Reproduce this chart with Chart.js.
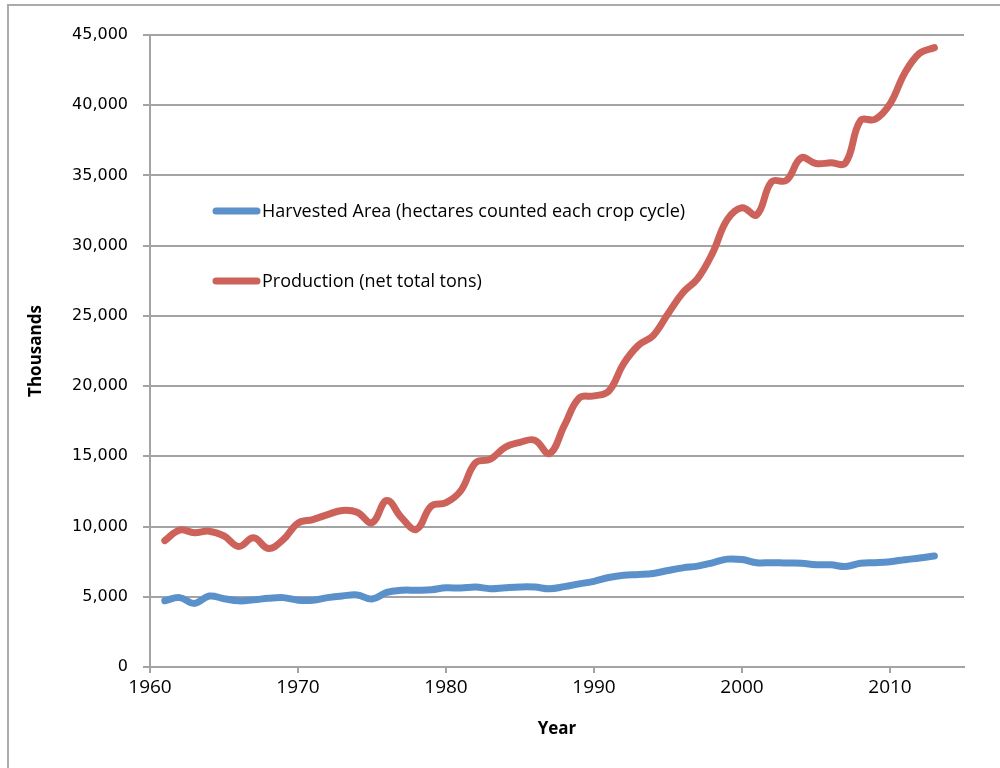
<!DOCTYPE html>
<html>
<head>
<meta charset="utf-8">
<script src="https://cdn.jsdelivr.net/npm/chart.js@4/dist/chart.umd.min.js"></script>
<style>
  html, body { margin: 0; padding: 0; background: #fff; }
  canvas { display: block; }
</style>
</head>
<body>
<canvas id="c" width="1000" height="768"></canvas>
<script>
// Years of record
const years = [1961, 1962, 1963, 1964, 1965, 1966, 1967, 1968, 1969, 1970,
  1971, 1972, 1973, 1974, 1975, 1976, 1977, 1978, 1979, 1980,
  1981, 1982, 1983, 1984, 1985, 1986, 1987, 1988, 1989, 1990,
  1991, 1992, 1993, 1994, 1995, 1996, 1997, 1998, 1999, 2000,
  2001, 2002, 2003, 2004, 2005, 2006, 2007, 2008, 2009, 2010,
  2011, 2012, 2013];

// Harvested area, thousand hectares
const harvestedArea = [4720, 4940, 4530, 5050, 4860, 4710, 4780, 4890, 4940, 4760,
  4750, 4940, 5060, 5130, 4840, 5310, 5460, 5470, 5500, 5640,
  5620, 5690, 5580, 5650, 5700, 5690, 5570, 5720, 5920, 6100,
  6370, 6530, 6580, 6660, 6870, 7060, 7180, 7420, 7680, 7650,
  7420, 7430, 7400, 7390, 7280, 7280, 7150, 7390, 7430, 7500,
  7640, 7760, 7900];

// Production, thousand tons
const production = [9000, 9750, 9560, 9670, 9330, 8580, 9200, 8440, 9070, 10250,
  10500, 10850, 11150, 11020, 10280, 11850, 10630, 9800, 11450, 11700,
  12550, 14550, 14800, 15650, 16000, 16150, 15200, 17200, 19150, 19300,
  19650, 21600, 22900, 23600, 25150, 26650, 27650, 29450, 31850, 32700,
  32200, 34550, 34650, 36250, 35850, 35900, 35900, 38900, 39000, 40100,
  42300, 43700, 44100];

const seriesLabels = ['Harvested Area (hectares counted each crop cycle)', 'Production (net total tons)'];
const xTicks = [1960, 1970, 1980, 1990, 2000, 2010];

const GRID = '#a3a3a3';
const FONT = 'Open Sans';

// Light frame around the chart
const framePlugin = {
  id: 'frame',
  beforeDraw(chart) {
    const ctx = chart.ctx;
    ctx.save();
    ctx.fillStyle = '#fff';
    ctx.fillRect(0, 0, chart.width, chart.height);
    ctx.strokeStyle = '#ababab';
    ctx.lineWidth = 2;
    ctx.strokeRect(8, 5, 1100, 900);
    ctx.restore();
  }
};

// Legend drawn inside the plot area
const innerLegend = {
  id: 'innerLegend',
  afterDraw(chart) {
    const ctx = chart.ctx;
    const x0 = 216, x1 = 257, textX = 262;
    const rows = [211, 281];
    ctx.save();
    chart.data.datasets.forEach((ds, i) => {
      const y = rows[i];
      ctx.strokeStyle = ds.borderColor;
      ctx.lineWidth = 7;
      ctx.lineCap = 'round';
      ctx.beginPath();
      ctx.moveTo(x0, y);
      ctx.lineTo(x1, y);
      ctx.stroke();
      ctx.fillStyle = '#000';
      ctx.font = '18px "' + FONT + '"';
      ctx.textBaseline = 'middle';
      ctx.textAlign = 'left';
      ctx.fillText(ds.label, textX, y + 1);
    });
    ctx.restore();
  }
};

const toPoints = vals => years.map((yr, i) => ({ x: yr, y: vals[i] }));

new Chart(document.getElementById('c'), {
  type: 'line',
  data: {
    datasets: [
      {
        label: seriesLabels[0],
        data: toPoints(harvestedArea),
        borderColor: '#5b91ca',
        borderWidth: 7,
        pointRadius: 0,
        tension: 0.4,
        fill: false,
        borderCapStyle: 'round',
        borderJoinStyle: 'round'
      },
      {
        label: seriesLabels[1],
        data: toPoints(production),
        borderColor: '#cc6259',
        borderWidth: 7,
        pointRadius: 0,
        tension: 0.4,
        fill: false,
        borderCapStyle: 'round',
        borderJoinStyle: 'round'
      }
    ]
  },
  options: {
    responsive: false,
    animation: false,
    devicePixelRatio: 1,
    layout: { padding: { top: 35, right: 36, left: 0, bottom: 0 } },
    plugins: {
      legend: { display: false },
      tooltip: { enabled: false }
    },
    scales: {
      x: {
        type: 'linear',
        min: 1960,
        max: 2015,
        afterBuildTicks: s => { s.ticks = xTicks.map(v => ({ value: v })); },
        afterFit: s => { s.height = 101; },
        ticks: {
          color: '#000',
          font: { family: FONT, size: 19 },
          padding: 3,
          maxRotation: 0,
          callback: v => String(v)
        },
        grid: { drawOnChartArea: false, color: GRID, lineWidth: 2, tickLength: 6 },
        border: { color: GRID, width: 2 },
        title: {
          display: true,
          text: 'Year',
          color: '#000',
          font: { family: FONT, size: 17, weight: 'bold' },
          padding: { top: 0, bottom: 29 }
        }
      },
      y: {
        min: 0,
        max: 45000,
        afterFit: s => { s.width = 150; },
        ticks: {
          stepSize: 5000,
          color: '#000',
          font: { family: 'DejaVu Sans', size: 16 },
          padding: 15,
          callback: v => v.toLocaleString('en-US')
        },
        grid: { color: GRID, lineWidth: 2, tickLength: 7 },
        border: { color: GRID, width: 2 },
        title: {
          display: true,
          text: 'Thousands',
          color: '#000',
          font: { family: FONT, size: 17, weight: 'bold' },
          padding: { top: 26, bottom: 0 }
        }
      }
    }
  },
  plugins: [framePlugin, innerLegend]
});
</script>
</body>
</html>
